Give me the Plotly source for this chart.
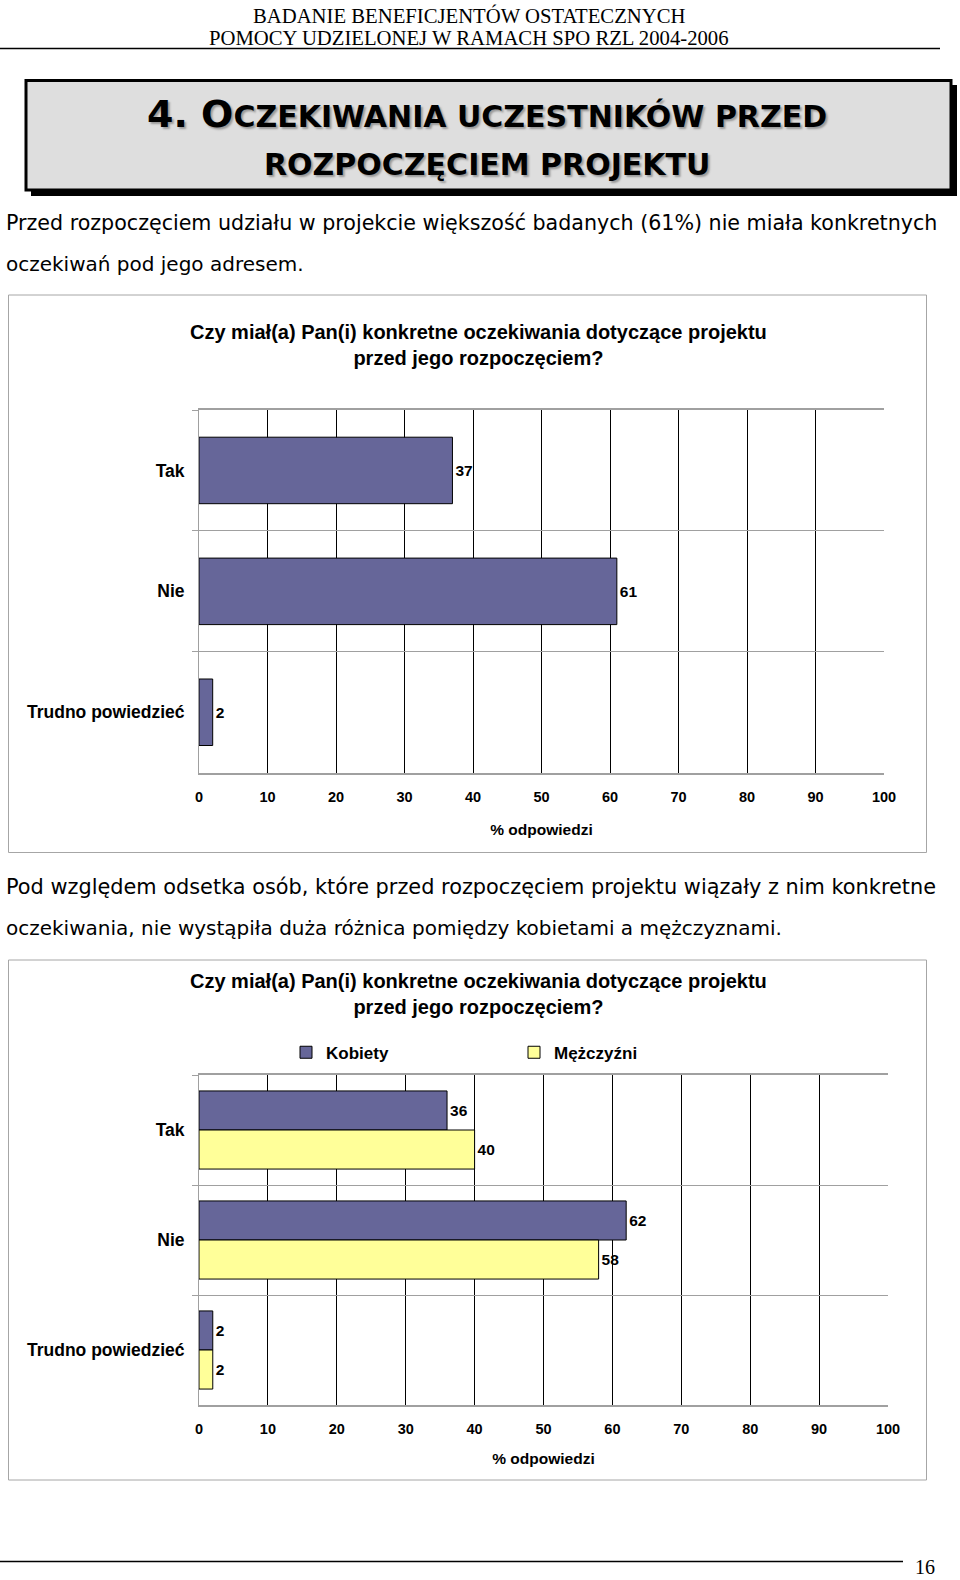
import plotly.graph_objects as go

# ---------------- data ----------------
categories = ["Tak", "Nie", "Trudno powiedzieć"]
overall = [37, 61, 2]
series_names = ["Kobiety", "Mężczyźni"]
kobiety = [36, 62, 2]
mezczyzni = [40, 58, 2]
x_ticks = [0, 10, 20, 30, 40, 50, 60, 70, 80, 90, 100]

header_lines = ["BADANIE BENEFICJENTÓW OSTATECZNYCH",
                "POMOCY UDZIELONEJ W RAMACH SPO RZL 2004-2006"]
chart_title = "Czy miał(a) Pan(i) konkretne oczekiwania dotyczące projektu<br>przed jego rozpoczęciem?"
axis_title = "% odpowiedzi"
para1 = ["Przed rozpoczęciem udziału w projekcie większość badanych (61%) nie miała konkretnych",
         "oczekiwań pod jego adresem."]
para2 = ["Pod względem odsetka osób, które przed rozpoczęciem projektu wiązały z nim konkretne",
         "oczekiwania, nie wystąpiła duża różnica pomiędzy kobietami a mężczyznami."]
page_number = "16"

# ---------------- geometry helpers ----------------
W, H = 960, 1580


def X(px):
    return px / W


def Y(py):
    return 1 - py / H


BAR_BLUE = "#666699"
BAR_YELLOW = "#FFFF99"
CHART_FONT = "Liberation Sans, Arial, sans-serif"
GRID_GRAY = "#a0a0a0"

fig = go.Figure()

fig.add_trace(go.Bar(
    y=categories, x=overall, orientation="h", xaxis="x", yaxis="y",
    marker=dict(color=BAR_BLUE, line=dict(color="black", width=1)),
    width=0.55, text=overall, textposition="outside",
    textfont=dict(family=CHART_FONT, size=15.5, color="black", weight="bold"),
    cliponaxis=False, showlegend=False, name="Ogółem"))

for name, vals, col in [(series_names[0], kobiety, BAR_BLUE), (series_names[1], mezczyzni, BAR_YELLOW)]:
    fig.add_trace(go.Bar(
        y=categories, x=vals, orientation="h", xaxis="x2", yaxis="y2",
        marker=dict(color=col, line=dict(color="black", width=1)),
        text=vals, textposition="outside",
        textfont=dict(family=CHART_FONT, size=15.5, color="black", weight="bold"),
        cliponaxis=False, name=name))


def xaxis_cfg(left, right, anchor, standoff):
    return dict(domain=[X(left), X(right)], range=[0, 100], tickvals=x_ticks,
                showgrid=True, gridcolor="black", gridwidth=1, zeroline=False,
                showline=True, mirror=True, linecolor=GRID_GRAY, linewidth=1.5, ticks="",
                ticklabelstandoff=10, automargin=False,
                tickfont=dict(family=CHART_FONT, size=14.5, color="black", weight="bold"),
                title=dict(text=axis_title, standoff=standoff,
                           font=dict(family=CHART_FONT, size=15.5, color="black", weight="bold")),
                anchor=anchor, fixedrange=True)


def yaxis_cfg(bottom, top, anchor):
    return dict(domain=[Y(bottom), Y(top)], type="category", categoryorder="array",
                categoryarray=categories, autorange="reversed", tickson="boundaries",
                showgrid=True, gridcolor=GRID_GRAY, gridwidth=1,
                showline=True, linecolor=GRID_GRAY, linewidth=1,
                ticks="outside", ticklen=6, tickcolor=GRID_GRAY,
                ticklabelstandoff=10, automargin=False,
                tickfont=dict(family=CHART_FONT, size=17.5, color="black", weight="bold"),
                anchor=anchor, fixedrange=True)


annotations = []
# header
for i, t in enumerate(header_lines):
    annotations.append(dict(text=t, x=X(469), y=Y(15 + i * 23), xref="paper", yref="paper",
                            showarrow=False, xanchor="center", yanchor="middle",
                            font=dict(family="Liberation Serif, Times New Roman, serif", size=20.7, color="black")))
# section title (small caps)
annotations.append(dict(
    text="4. O<span style='font-size:30px'>CZEKIWANIA UCZESTNIKÓW PRZED</span>",
    x=X(487), y=Y(114), xref="paper", yref="paper", showarrow=False,
    xanchor="center", yanchor="middle",
    font=dict(family="DejaVu Sans, Verdana, sans-serif", size=38, color="black", weight="bold",
              shadow="2px 2px 2px #9a9a9a")))
annotations.append(dict(
    text="ROZPOCZĘCIEM PROJEKTU",
    x=X(487), y=Y(164), xref="paper", yref="paper", showarrow=False,
    xanchor="center", yanchor="middle",
    font=dict(family="DejaVu Sans, Verdana, sans-serif", size=30, color="black", weight="bold",
              shadow="2px 2px 2px #9a9a9a")))
# paragraphs (first lines are justified in the original -> slightly larger size to fill the width)
for lines, y0, jsize in [(para1, 222.6, 20.62), (para2, 886.5, 20.85)]:
    for i, t in enumerate(lines):
        annotations.append(dict(text=t, x=X(4), y=Y(y0 + i * 41.5), xref="paper", yref="paper",
                                showarrow=False, xanchor="left", yanchor="middle",
                                font=dict(family="DejaVu Sans, Tahoma, sans-serif",
                                          size=jsize if i == 0 else 20, color="black")))
# chart titles
for yc in [344.5, 994]:
    annotations.append(dict(text=chart_title, x=X(478.5), y=Y(yc), xref="paper", yref="paper",
                            showarrow=False, xanchor="center", yanchor="middle",
                            font=dict(family=CHART_FONT, size=20, color="black", weight="bold")))
# page number
annotations.append(dict(text=page_number, x=X(925), y=Y(1567), xref="paper", yref="paper",
                        showarrow=False, xanchor="center", yanchor="middle",
                        font=dict(family="Liberation Serif, Times New Roman, serif", size=20, color="black")))

shapes = [
    # header rule
    dict(type="line", xref="paper", yref="paper", x0=X(0), x1=X(940), y0=Y(48.5), y1=Y(48.5),
         line=dict(color="black", width=1.5)),
    # title box shadow
    dict(type="rect", xref="paper", yref="paper", x0=X(31), x1=X(957), y0=Y(196), y1=Y(85),
         fillcolor="black", line=dict(width=0), layer="below"),
    # title box
    dict(type="rect", xref="paper", yref="paper", x0=X(26), x1=X(951), y0=Y(190), y1=Y(80.5),
         fillcolor="#dedede", line=dict(color="black", width=3), layer="below"),
    # chart boxes
    dict(type="rect", xref="paper", yref="paper", x0=X(8.5), x1=X(926.5), y0=Y(852.5), y1=Y(295),
         line=dict(color="#a6a6a6", width=1), layer="below"),
    dict(type="rect", xref="paper", yref="paper", x0=X(8.5), x1=X(926.5), y0=Y(1480), y1=Y(960),
         line=dict(color="#a6a6a6", width=1), layer="below"),
    # bottom rule
    dict(type="line", xref="paper", yref="paper", x0=X(0), x1=X(903), y0=Y(1561.5), y1=Y(1561.5),
         line=dict(color="black", width=1.5)),
]

fig.update_layout(
    width=W, height=H, margin=dict(l=0, r=0, t=0, b=0, autoexpand=False),
    paper_bgcolor="white", plot_bgcolor="white",
    barmode="group", bargap=0.29, bargroupgap=0,
    xaxis=xaxis_cfg(199, 884, "y", 20),
    yaxis=yaxis_cfg(772.7, 410, "x"),
    xaxis2=xaxis_cfg(199, 888, "y2", 17),
    yaxis2=yaxis_cfg(1405, 1075, "x2"),
    legend=dict(orientation="h", x=X(286), y=Y(1052.7), xanchor="left", yanchor="middle",
                xref="paper", yref="paper", entrywidth=183, entrywidthmode="pixels",
                itemwidth=30, bgcolor="rgba(0,0,0,0)",
                font=dict(family=CHART_FONT, size=17, color="black", weight="bold")),
    annotations=annotations, shapes=shapes,
)

fig.write_html("out.html", config={"displayModeBar": False},
               post_script="document.body.style.margin='0';document.body.style.overflow='hidden';")
